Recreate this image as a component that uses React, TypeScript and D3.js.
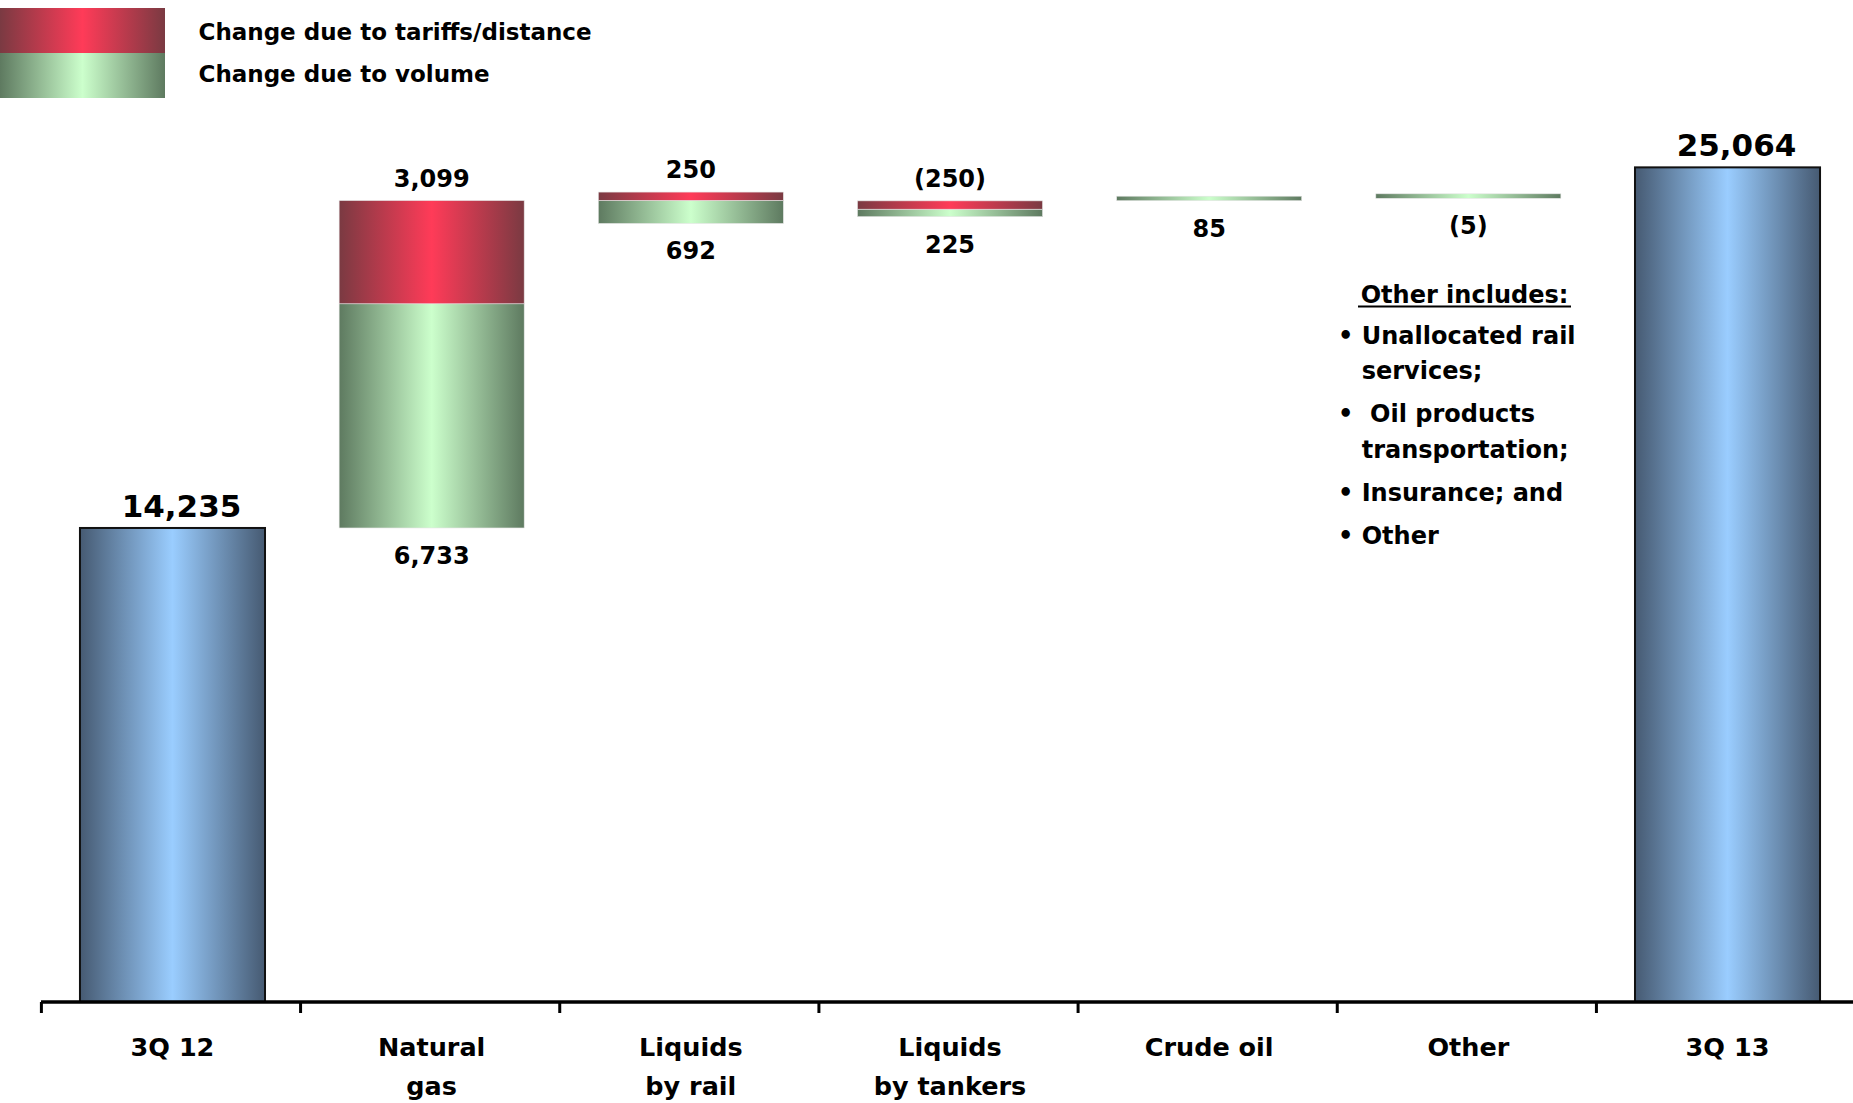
import React from 'react';
import * as d3 from 'd3';

// ---- data ----
const categories = ['3Q 12', 'Natural gas', 'Liquids by rail', 'Liquids by tankers', 'Crude oil', 'Other', '3Q 13'];
const categoryLines = [['3Q 12'], ['Natural', 'gas'], ['Liquids', 'by rail'], ['Liquids', 'by tankers'], ['Crude oil'], ['Other'], ['3Q 13']];
const totalCategories = ['3Q 12', '3Q 13'];
const totalValues = [14235, 25064];
const changeCategories = ['Natural gas', 'Liquids by rail', 'Liquids by tankers', 'Crude oil', 'Other'];
const changeBase = [14235, 23380, 23583, 24063, 24135];
const volumeChange = [6733, 692, 225, 85, -5];
const tariffChange = [3099, 250, -250, 0, 0];
const legendLabels = ['Change due to tariffs/distance', 'Change due to volume'];
const noteTitle = 'Other includes:';
const noteItems = [['Unallocated rail', 'services;'], [' Oil products', 'transportation;'], ['Insurance; and'], ['Other']];

const FONT = "'DejaVu Sans', 'Liberation Sans', sans-serif";

export default function App() {
  const W = 1853, H = 1103;
  const x = d3.scaleBand<string>().domain(categories).range([42.9, 1857.1]).paddingInner(0.286).paddingOuter(0.143);
  const y = d3.scaleLinear().domain([0, 30000]).range([1002, 3]);
  const fmt = d3.format(',');
  const lab = (v: number) => (v < 0 ? `(${fmt(-v)})` : fmt(v));
  const bw = x.bandwidth();
  const gap = (x.step() - bw) / 2;
  const minH = 4.5;

  const grad = (id: string, edge: string, mid: string) => (
    <linearGradient id={id} x1="0" x2="1" y1="0" y2="0">
      <stop offset="0" stopColor={edge} />
      <stop offset="0.5" stopColor={mid} />
      <stop offset="1" stopColor={edge} />
    </linearGradient>
  );

  // note block layout
  const noteRows: { text: string; y: number; bullet: boolean }[] = [];
  let ny = 343.5;
  noteItems.forEach((item) => {
    item.forEach((t, j) => {
      noteRows.push({ text: t, y: ny, bullet: j === 0 });
      ny += 35.5;
    });
    ny += 7.5;
  });

  return (
    <svg width={W} height={H} style={{ position: 'absolute', left: 0, top: 0, background: '#fff' }} fontFamily={FONT} fontWeight="bold">
      <defs>
        {grad('gBlue', '#465a72', '#9acdff')}
        {grad('gRed', '#7a3a42', '#ff3b58')}
        {grad('gGreen', '#5e7a60', '#ccffcc')}
      </defs>

      {/* legend */}
      <rect x={0} y={8} width={165} height={45} fill="url(#gRed)" />
      <rect x={0} y={53} width={165} height={45} fill="url(#gGreen)" />
      <text x={198.5} y={40} fontSize={23} fill="#000">{legendLabels[0]}</text>
      <text x={198.5} y={82} fontSize={23} fill="#000">{legendLabels[1]}</text>

      {/* total bars */}
      {totalCategories.map((c, i) => {
        const x0 = x(c)!;
        const top = y(totalValues[i]);
        return (
          <g key={c}>
            <rect x={x0} y={top} width={bw} height={y(0) - top} fill="url(#gBlue)" stroke="#111" strokeWidth={2} />
            <text x={x0 + bw / 2 + 9} y={top - 11} textAnchor="middle" fontSize={31} fill="#000">{lab(totalValues[i])}</text>
          </g>
        );
      })}

      {/* change bars */}
      {changeCategories.map((c, i) => {
        const x0 = x(c)!;
        const base = changeBase[i];
        const yBottom = y(base);
        const vH = Math.max(y(0) - y(Math.abs(volumeChange[i])), minH);
        const yMid = yBottom - vH;
        const tH = y(0) - y(Math.abs(tariffChange[i]));
        const yTop = yMid - tH;
        return (
          <g key={c}>
            <rect x={x0} y={yMid} width={bw} height={vH} fill="url(#gGreen)" stroke="#e4e4e4" strokeWidth={0.6} />
            {tariffChange[i] !== 0 && (
              <rect x={x0} y={yTop} width={bw} height={tH} fill="url(#gRed)" stroke="#e4e4e4" strokeWidth={0.6} />
            )}
            {tariffChange[i] !== 0 && (
              <text x={x0 + bw / 2} y={yTop - 14} textAnchor="middle" fontSize={24} fill="#000">{lab(tariffChange[i])}</text>
            )}
            <text x={x0 + bw / 2} y={yBottom + 36} textAnchor="middle" fontSize={24} fill="#000">{lab(volumeChange[i])}</text>
          </g>
        );
      })}

      {/* axis */}
      <line x1={41} x2={W} y1={1002} y2={1002} stroke="#000" strokeWidth={3.5} />
      {categories.map((c) => (
        <line key={'t' + c} x1={x(c)! - gap - 1.5} x2={x(c)! - gap - 1.5} y1={1002} y2={1013} stroke="#000" strokeWidth={3} />
      ))}
      {categories.map((c, i) => (
        <text key={'l' + c} x={x(c)! + bw / 2} textAnchor="middle" fontSize={25.5} fill="#000">
          {categoryLines[i].map((ln, j) => (
            <tspan key={j} x={x(c)! + bw / 2} y={1056 + j * 39}>{ln}</tspan>
          ))}
        </text>
      ))}

      {/* note */}
      <text x={1464.5} y={302.5} textAnchor="middle" fontSize={24} fill="#000">{noteTitle}</text>
      <line x1={1358} x2={1571} y1={306.5} y2={306.5} stroke="#000" strokeWidth={1.8} />
      {noteRows.map((r, k) => (
        <g key={k}>
          {r.bullet && <text x={1338} y={r.y} fontSize={24} fill="#000">•</text>}
          <text x={1361.7} y={r.y} fontSize={24} fill="#000" style={{ whiteSpace: 'pre' }}>{r.text}</text>
        </g>
      ))}
    </svg>
  );
}
